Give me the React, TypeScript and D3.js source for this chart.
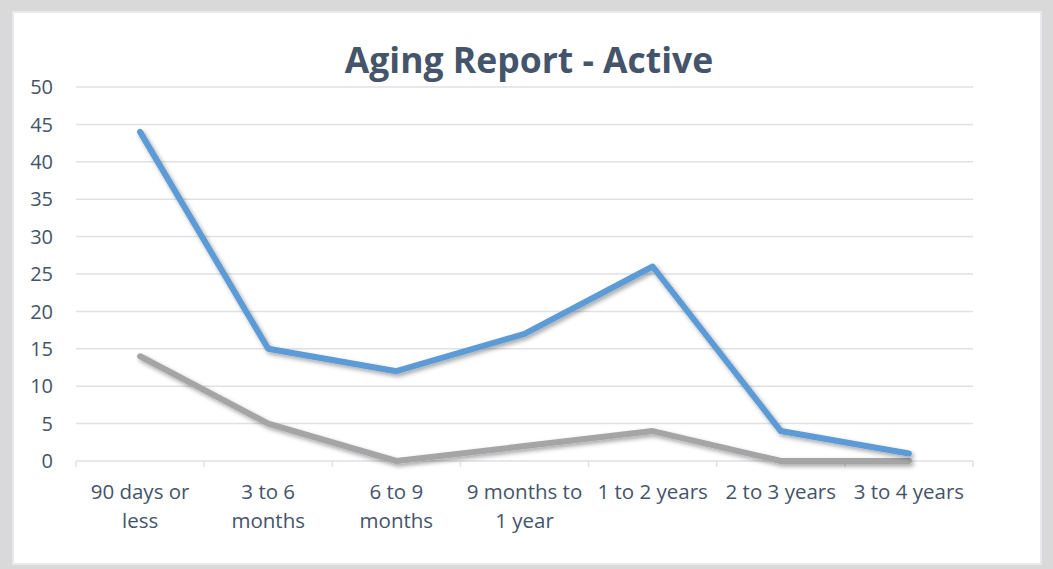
import React from "react";
import * as d3 from "d3";

const categories: string[][] = [
  ["90 days or", "less"],
  ["3 to 6", "months"],
  ["6 to 9", "months"],
  ["9 months to", "1 year"],
  ["1 to 2 years"],
  ["2 to 3 years"],
  ["3 to 4 years"],
];
const seriesBlue: number[] = [44, 15, 12, 17, 26, 4, 1];
const seriesGray: number[] = [14, 5, 0, 2, 4, 0, 0];
const yTicks: number[] = [0, 5, 10, 15, 20, 25, 30, 35, 40, 45, 50];
const title = "Aging Report - Active";

const W = 1053;
const H = 569;
const plot = { left: 76, right: 973, top: 87, bottom: 461 };
const TEXT = "#44546A";
const FONT = "'Open Sans', sans-serif";

export default function App() {
  const x = d3
    .scaleBand<number>()
    .domain(categories.map((_, i) => i))
    .range([plot.left, plot.right])
    .paddingInner(0)
    .paddingOuter(0);
  const y = d3.scaleLinear().domain([0, 50]).range([plot.bottom, plot.top]);
  const cx = (i: number) => (x(i) as number) + x.bandwidth() / 2;
  const line = d3
    .line<number>()
    .x((_, i) => cx(i))
    .y((d) => y(d));

  const tickXs = categories.map((_, i) => x(i) as number).concat([plot.right]);

  return (
    <svg
      width={W}
      height={H}
      style={{ position: "absolute", left: 0, top: 0 }}
      fontFamily={FONT}
    >
      <defs>
        <filter id="shadow" x="-10%" y="-10%" width="120%" height="130%">
          <feDropShadow dx="2" dy="2.5" stdDeviation="2" floodColor="#000" floodOpacity="0.35" />
        </filter>
      </defs>
      <rect x={0} y={0} width={W} height={H} fill="#d9d9d9" />
      <rect x={13} y={12} width={1028} height={552} fill="#ffffff" stroke="#e8e9ec" strokeWidth={2} />
      <text
        x={529}
        y={73}
        textAnchor="middle"
        fontSize={35.5}
        fontWeight="bold"
        fill={TEXT}
      >
        {title}
      </text>
      {yTicks.map((t) => (
        <g key={t}>
          <line
            x1={plot.left}
            x2={plot.right}
            y1={y(t)}
            y2={y(t)}
            stroke="#dfe1e5"
            strokeWidth={1.5}
          />
          <text
            x={53}
            y={y(t)}
            dy="0.36em"
            textAnchor="end"
            fontSize={20}
            fill={TEXT}
          >
            {t}
          </text>
        </g>
      ))}
      {tickXs.map((tx, i) => (
        <line
          key={i}
          x1={tx}
          x2={tx}
          y1={plot.bottom}
          y2={plot.bottom + 6}
          stroke="#dfe1e5"
          strokeWidth={1.5}
        />
      ))}
      {categories.map((lines, i) => (
        <text key={i} x={cx(i)} y={499} textAnchor="middle" fontSize={20.5} fill={TEXT}>
          {lines.map((l, j) => (
            <tspan key={j} x={cx(i)} dy={j === 0 ? 0 : 29}>
              {l}
            </tspan>
          ))}
        </text>
      ))}
      <path
        d={line(seriesGray) || ""}
        fill="none"
        stroke="#A5A5A5"
        strokeWidth={6}
        strokeLinejoin="round"
        strokeLinecap="round"
        filter="url(#shadow)"
      />
      <path
        d={line(seriesBlue) || ""}
        fill="none"
        stroke="#5B9BD5"
        strokeWidth={6}
        strokeLinejoin="round"
        strokeLinecap="round"
        filter="url(#shadow)"
      />
    </svg>
  );
}
